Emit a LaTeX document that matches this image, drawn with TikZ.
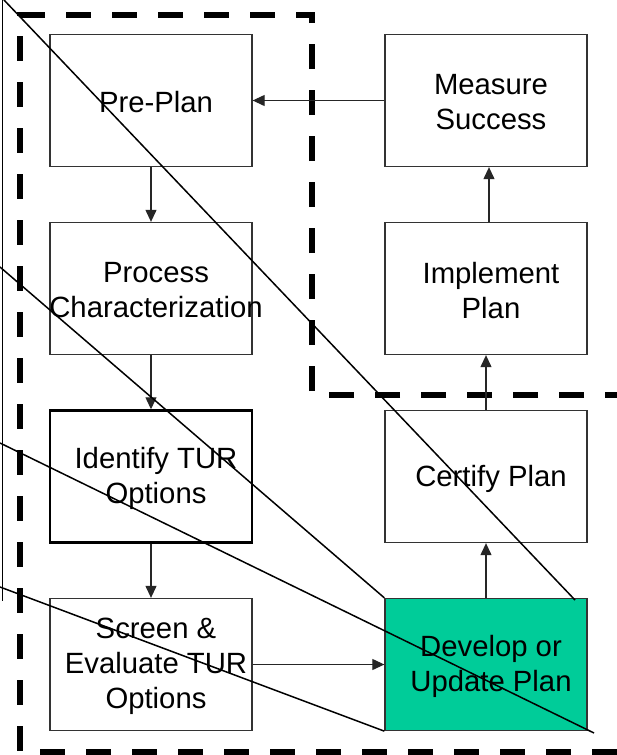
\documentclass[tikz,border=0pt]{standalone}
\usepackage{fontspec}
\setmainfont{Liberation Sans}
\usetikzlibrary{arrows.meta}
\definecolor{devgreen}{HTML}{00CC99}
\begin{document}
\begin{tikzpicture}[x=1pt,y=-1pt,
  stepbox/.style={draw=black!80, line width=1.3pt, minimum width=202pt,
    minimum height=132pt, inner sep=0pt},
  boxtext/.style={align=center, inner sep=0pt,
    font=\fontsize{29.3}{35}\selectfont},
  flow/.style={draw=black!85, line width=1.1pt,
    -{Triangle[length=12pt,width=11pt]}},
  strike/.style={draw=black, line width=1.5pt},
  zone/.style={draw=black, line width=6pt, dash pattern=on 25pt off 21pt}]
\useasboundingbox (0,0) rectangle (617,755);
\clip (0,0) rectangle (617,755);
\fill[white] (0,0) rectangle (617,755);

% dashed boundary of the planning zone
\coordinate (z1) at (630,395);
\coordinate (z2) at (312,395);
\coordinate (z3) at (312,14.5);
\coordinate (z4) at (20,14.5);
\coordinate (z5) at (20,752);
\coordinate (z6) at (630,752);
\draw[zone] (z1) -- (z2) -- (z3) -- (z4) -- (z5) -- (z6);

% process steps
\node[stepbox] (pre)    at (151,100.5) {};
\node[stepbox] (proc)   at (151,288.5) {};
\node[stepbox, draw=black, line width=2.4pt] (ident) at (151,476.5) {};
\node[stepbox] (screen) at (151,664.5) {};
\node[stepbox] (meas)   at (486,100.5) {};
\node[stepbox] (impl)   at (486,288.5) {};
\node[stepbox] (cert)   at (486,476.5) {};
\node[stepbox, fill=devgreen] (dev) at (486,664.5) {};

\node[boxtext] (tpre)    at ([shift={(5,2)}]pre.center)    {Pre-Plan};
\node[boxtext] (tproc)   at ([shift={(5,2)}]proc.center)   {Process\\Characterization};
\node[boxtext] (tident)  at ([shift={(5,2)}]ident.center)  {Identify TUR\\Options};
\node[boxtext] (tscreen) at ([shift={(5,2)}]screen.center) {Screen \&\\Evaluate TUR\\Options};
\node[boxtext] (tmeas)   at ([shift={(5,2)}]meas.center)   {Measure\\Success};
\node[boxtext] (timpl)   at ([shift={(5,2)}]impl.center)   {Implement\\Plan};
\node[boxtext] (tcert)   at ([shift={(5,2)}]cert.center)   {Certify Plan};
\node[boxtext] (tdev)    at ([shift={(5,2)}]dev.center)    {Develop or\\Update Plan};

% flow between steps
\draw[flow] (meas.west) -- (pre.east);
\draw[flow] (pre.south) -- (proc.north);
\draw[flow] (proc.south) -- (ident.north);
\draw[flow] (ident.south) -- (screen.north);
\draw[flow] (screen.east) -- (dev.west);
\draw[flow] (dev.north) -- (cert.south);
\draw[flow] (cert.north) -- (impl.south);
\draw[flow] ([xshift=3pt]impl.north) -- ([xshift=3pt]meas.south);

% thin overlay lines
\coordinate (v1) at (2.5,0);
\coordinate (v2) at (2.5,601);
\coordinate (a1) at (4,0);
\coordinate (a2) at (575,600);
\coordinate (b1) at (0,267);
\coordinate (c1) at (0,443);
\coordinate (c2) at (594,733);
\coordinate (d1) at (0,587);
\draw[strike] (v1) -- (v2);
\draw[strike] (a1) -- (a2);
\draw[strike] (b1) -- (dev.north west);
\draw[strike] (c1) -- (c2);
\draw[strike] (d1) -- (dev.south west);
\end{tikzpicture}
\end{document}
